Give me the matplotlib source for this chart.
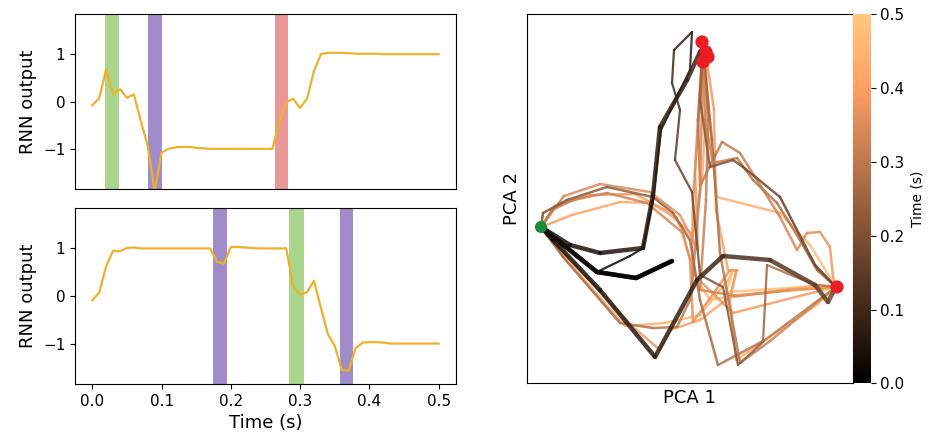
import numpy as np
import matplotlib
matplotlib.use('Agg')
import matplotlib.pyplot as plt
from matplotlib.collections import LineCollection

# time axis of the RNN output traces [s]
t = np.linspace(0, 0.5, 51)

# RNN output, trial shown on top
out_top = [-0.08, 0.07, 0.68, 0.15, 0.26, 0.08, 0.15, -0.41, -0.94, -1.9,
           -1.08, -1.0, -0.97, -0.96, -0.96, -0.98, -0.99,
           -1.0, -1.0, -1.0, -1.0, -1.0, -1.0, -1.0, -1.0, -1.0, -1.0,
           -0.42, -0.02, 0.06, -0.14, 0.06, 0.65, 1.0, 1.03, 1.03, 1.03, 1.02,
           1.01, 1.01, 1.01, 1.01, 1.0, 1.0, 1.0, 1.0, 1.0, 1.0, 1.0, 1.0, 1.0]

# RNN output, trial shown below
out_bot = [-0.09, 0.07, 0.63, 0.95, 0.94, 1.01, 1.02,
           1.0, 1.0, 1.0, 1.0, 1.0, 1.0, 1.0, 1.0, 1.0, 1.0, 1.0,
           0.72, 0.68, 1.03, 1.03, 1.02, 1.01,
           1.0, 1.0, 1.0, 1.0, 1.0,
           0.2, 0.03, 0.08, 0.32, -0.25, -0.8, -1.05, -1.55, -1.57, -1.1,
           -0.98, -0.97, -0.97, -0.98,
           -1.0, -1.0, -1.0, -1.0, -1.0, -1.0, -1.0, -1.0]

# input pulses (start, end, color)
pulses_top = [(0.019, 0.039, '#a9d58c'), (0.080, 0.101, '#a08cc8'),
              (0.263, 0.283, '#e99797')]
pulses_bot = [(0.174, 0.194, '#a08cc8'), (0.284, 0.305, '#a9d58c'),
              (0.358, 0.377, '#a08cc8')]

# state-space trajectories: (PCA 1, PCA 2, time)
traj_a = [(-1.8, -3.1, 0.0), (-5.4, -4.8, 0.01), (-9.3, -4.2, 0.02), (-14.9, 0.3, 0.03),
          (-12.0, -1.5, 0.04), (-9.0, -2.3, 0.05), (-4.7, -1.8, 0.06), (-3.7, 3.5, 0.07),
          (-3.0, 10.3, 0.08), (-0.3, 15.0, 0.09), (1.0, 17.8, 0.10), (1.3, 18.2, 0.5)]
traj_b = [(-1.8, -3.1, 0.0), (-5.4, -4.8, 0.01), (-9.3, -4.2, 0.02), (-14.9, 0.3, 0.03),
          (-13.7, -1.0, 0.04), (-9.0, -6.0, 0.06), (-3.5, -12.7, 0.08), (0.7, -5.0, 0.10),
          (3.3, -2.6, 0.12), (8.0, -3.0, 0.14), (12.5, -5.5, 0.16), (13.8, -7.2, 0.17),
          (14.6, -5.7, 0.18)]
traj_c = [(-1.8, -3.1, 0.0), (-5.4, -4.8, 0.01), (-9.3, -4.2, 0.02), (-6.0, -2.6, 0.03),
          (-4.7, -1.8, 0.04), (-3.7, 3.0, 0.05), (-2.9, 10.0, 0.06), (0.0, 16.0, 0.07),
          (0.2, 19.8, 0.08), (-1.6, 18.0, 0.10), (-1.8, 14.7, 0.12), (-1.0, 12.0, 0.14),
          (-1.5, 7.0, 0.16), (0.2, 3.8, 0.18), (1.0, -4.5, 0.20), (3.3, -5.7, 0.21),
          (4.8, -13.5, 0.23), (7.3, -11.2, 0.25), (7.7, -3.5, 0.27), (12.5, -5.5, 0.29),
          (14.6, -5.7, 0.30)]
traj_d = [(1.4, 17.8, 0.30), (1.8, 11.0, 0.31), (1.6, 3.0, 0.32), (1.0, -6.0, 0.33),
          (4.7, -6.6, 0.35), (10.0, -6.0, 0.37), (14.6, -5.7, 0.39)]
traj_e = [(1.2, 17.2, 0.34), (0.8, 10.0, 0.35), (0.3, 3.0, 0.36), (0.2, -4.3, 0.37),
          (4.3, -8.3, 0.39), (13.3, -6.0, 0.42), (14.6, -5.7, 0.44)]
traj_f = [(1.3, 18.0, 0.25), (2.2, 9.0, 0.27), (3.0, -2.3, 0.29), (5.0, -13.3, 0.31),
          (8.0, -11.1, 0.33), (13.0, -7.0, 0.35), (14.6, -5.7, 0.36)]
traj_g = [(14.6, -5.7, 0.26), (12.7, -4.0, 0.27), (11.0, -1.0, 0.28), (8.7, 2.7, 0.29),
          (6.3, 5.0, 0.30), (4.7, 7.2, 0.31), (2.3, 6.7, 0.32), (1.5, 11.0, 0.33),
          (1.3, 17.0, 0.34), (1.5, 17.8, 0.35)]
traj_h = [(14.6, -5.7, 0.15), (12.5, -3.5, 0.16), (9.0, 3.3, 0.18), (5.3, 6.3, 0.20),
          (4.3, 7.0, 0.21), (2.0, 6.3, 0.22), (1.0, 13.0, 0.24), (1.3, 18.0, 0.25)]
traj_i = [(1.3, 17.5, 0.28), (0.8, 11.0, 0.29), (1.0, 4.4, 0.30), (3.2, 8.8, 0.31),
          (5.0, 7.7, 0.32), (9.0, 1.3, 0.34), (10.7, -2.0, 0.35), (11.7, -0.3, 0.36),
          (13.0, -0.2, 0.37), (14.0, -1.7, 0.38), (14.3, -4.7, 0.39), (14.6, -5.7, 0.40)]
traj_j = [(-14.9, 0.3, 0.30), (-13.8, 2.0, 0.31), (-11.7, 3.0, 0.32), (-8.3, 3.7, 0.33),
          (-4.3, 2.7, 0.34), (-0.7, -0.3, 0.35), (0.0, -3.0, 0.36), (0.3, -9.2, 0.37),
          (4.0, -4.0, 0.38), (4.7, -4.0, 0.39), (4.0, -6.7, 0.40), (10.0, -6.0, 0.42),
          (14.6, -5.7, 0.45)]
traj_k = [(-14.9, 0.3, 0.20), (-14.7, 1.7, 0.21), (-12.3, 3.0, 0.22), (-8.3, 4.3, 0.23),
          (-3.7, 3.3, 0.24), (-1.7, 1.7, 0.25), (0.0, -1.0, 0.26), (1.0, -7.0, 0.27),
          (2.8, -13.5, 0.29), (7.5, -11.0, 0.31), (14.6, -5.7, 0.34)]
traj_l = [(-14.9, 0.3, 0.25), (-12.7, -2.7, 0.26), (-7.0, -9.3, 0.28), (-3.7, -9.8, 0.29),
          (-1.3, -9.7, 0.30), (0.0, -7.0, 0.31), (0.3, -4.5, 0.32), (1.0, 4.0, 0.34),
          (1.3, 17.0, 0.36)]
traj_m = [(-14.9, 0.3, 0.35), (-11.5, -3.5, 0.36), (-5.7, -9.7, 0.38), (-3.0, -12.0, 0.39),
          (-2.0, -10.0, 0.40), (1.0, -9.0, 0.41), (4.0, -6.7, 0.42), (13.0, -5.5, 0.45),
          (14.6, -5.7, 0.46)]
traj_n = [(-14.9, 0.3, 0.40), (-11.8, 1.5, 0.41), (-7.0, 2.8, 0.42), (-4.0, 2.7, 0.43),
          (-1.3, 1.2, 0.44), (0.7, -5.0, 0.45), (2.0, -7.0, 0.46), (4.7, -6.5, 0.47),
          (14.6, -5.7, 0.50)]
traj_p = [(1.5, 17.5, 0.42), (2.0, 10.0, 0.43), (2.7, 3.3, 0.44), (9.0, 1.7, 0.46),
          (12.0, -1.5, 0.48), (14.6, -5.7, 0.50)]
traj_q = [(-14.9, 0.3, 0.36), (-13.5, 2.4, 0.37), (-10.0, 3.5, 0.38), (-5.5, 3.6, 0.39),
          (-2.5, 2.0, 0.40), (0.3, -0.5, 0.41), (1.2, 5.0, 0.42), (1.6, 12.0, 0.43),
          (1.4, 17.5, 0.44)]
traj_r = [(1.6, 17.5, 0.38), (2.4, 12.0, 0.39), (2.6, 2.0, 0.40), (3.8, -4.0, 0.41),
          (4.6, -4.0, 0.42), (4.0, -7.0, 0.43), (4.6, -13.0, 0.44), (7.8, -10.8, 0.45),
          (12.8, -7.4, 0.47), (14.6, -5.7, 0.48)]
traj_s = [(-14.9, 0.3, 0.42), (-12.3, -3.0, 0.43), (-6.5, -9.6, 0.44), (-2.5, -9.3, 0.45),
          (1.0, -8.5, 0.46), (3.8, -5.0, 0.47), (4.3, -4.0, 0.48), (3.6, -6.2, 0.49),
          (14.6, -5.5, 0.50)]
traj_u = [(-14.9, 0.3, 0.33), (-12.6, 3.4, 0.34), (-9.0, 4.6, 0.35), (-4.0, 3.8, 0.36),
          (-1.0, 1.5, 0.37), (0.8, -2.0, 0.38), (0.5, 6.0, 0.39), (0.9, 13.0, 0.40),
          (1.2, 18.0, 0.41)]

# start point and end points of trials
start_pc = [(-14.9, 0.3)]
end_pc = [(1.2, 18.8), (1.6, 17.8), (1.8, 17.3), (1.3, 16.8), (14.7, -5.7)]

line_col = '#efb02a'


def plot_output(ax, out, pulses):
    for a, b, c in pulses:
        ax.axvspan(a, b, color=c, lw=0, zorder=1)
    ax.plot(t, out, color=line_col, linewidth=1.6, zorder=2)
    ax.set_xlim(-0.025, 0.525)
    ax.set_ylim(-1.85, 1.85)
    ax.set_yticks([-1, 0, 1])
    ax.set_ylabel('RNN output', fontsize=13)
    ax.tick_params(labelsize=11)


fig = plt.figure(figsize=(9.31, 4.4), dpi=100)

ax0 = fig.add_axes([75/931, 1-189/440, 381/931, 175/440])
plot_output(ax0, out_top, pulses_top)
ax0.set_xticks([])

ax1 = fig.add_axes([75/931, 1-384/440, 381/931, 176/440])
plot_output(ax1, out_bot, pulses_bot)
ax1.set_xticks(np.arange(0, 0.51, 0.1))
ax1.set_xlabel('Time (s)', fontsize=13)

# PCA state space
ax2 = fig.add_axes([527/931, 1-383.3/440, 325.7/931, 369/440])
cmap = plt.get_cmap('copper')
norm = plt.Normalize(0, 0.5)
light = [traj_s, traj_n, traj_p, traj_q, traj_r, traj_m, traj_u, traj_j, traj_e,
         traj_d, traj_i, traj_l, traj_f, traj_k, traj_g]
dark = [traj_h, traj_c, traj_b, traj_a]
widths = [1.8]*len(light) + [1.8, 1.6, 3.2, 3.2]
for tr, w in zip(light + dark, widths):
    pts = np.array(tr)
    segs = np.stack([pts[:-1, :2], pts[1:, :2]], axis=1)
    lc = LineCollection(segs, cmap=cmap, norm=norm, linewidths=w, alpha=0.85,
                        capstyle='round', joinstyle='round')
    lc.set_array(pts[:-1, 2])
    ax2.add_collection(lc)

sx, sy = zip(*start_pc)
ex, ey = zip(*end_pc)
ax2.scatter(sx, sy, s=75, color='#1a8a3c', zorder=5, edgecolors='none')
ax2.scatter(ex, ey, s=90, color='#ec1c24', zorder=5, edgecolors='none')
ax2.set_xlim(-16.3, 16.27)
ax2.set_ylim(-15.33, 21.57)
ax2.set_xticks([])
ax2.set_yticks([])
ax2.set_xlabel('PCA 1', fontsize=13)
ax2.set_ylabel('PCA 2', fontsize=13)

cax = fig.add_axes([852.7/931, 1-383.3/440, 18/931, 369/440])
sm = plt.cm.ScalarMappable(cmap=cmap, norm=norm)
cb = fig.colorbar(sm, cax=cax)
cb.set_ticks([0.0, 0.1, 0.2, 0.3, 0.4, 0.5])
cb.ax.tick_params(labelsize=11)
cb.set_label('Time (s)', fontsize=10)
cb.outline.set_visible(False)

fig.savefig('out.png', dpi=100)
